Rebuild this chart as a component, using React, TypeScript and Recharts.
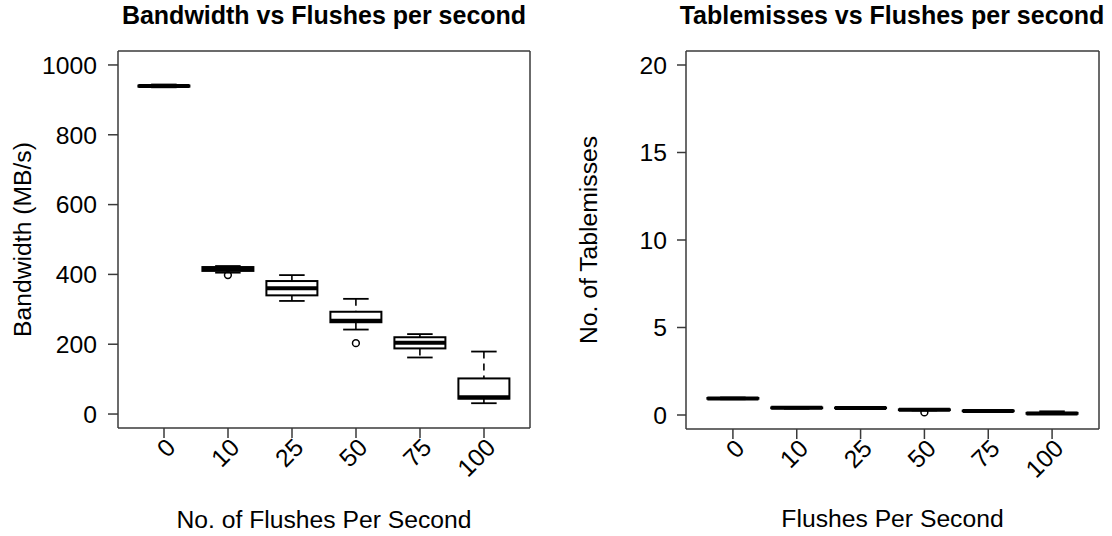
import React from 'react';
import { ComposedChart, Bar, XAxis, YAxis, CartesianGrid } from 'recharts';

// Flush-rate categories shared by both panels
const flushRates = ['0', '10', '25', '50', '75', '100'];

// Bandwidth (MB/s) five-number summaries per flush rate
const bwLow = [936, 405, 324, 242, 162, 31];
const bwQ1 = [938, 410, 340, 263, 188, 44];
const bwMedian = [940, 417, 360, 267, 204, 48];
const bwQ3 = [941, 421, 381, 293, 220, 102];
const bwHigh = [944, 424, 398, 330, 229, 179];
const bwOutliers = [[], [398], [], [203], [], []];
const bwTicks = [0, 200, 400, 600, 800, 1000];

// Table misses five-number summaries per flush rate
const tmLow = [0.9, 0.36, 0.37, 0.26, 0.2, 0.05];
const tmQ1 = [0.93, 0.39, 0.39, 0.28, 0.22, 0.07];
const tmMedian = [0.95, 0.41, 0.4, 0.3, 0.23, 0.09];
const tmQ3 = [0.97, 0.43, 0.42, 0.32, 0.25, 0.12];
const tmHigh = [1.0, 0.46, 0.43, 0.33, 0.26, 0.21];
const tmOutliers = [[], [], [], [0.15], [], []];
const tmTicks = [0, 5, 10, 15, 20];

const FONT = '"Liberation Sans", Arial, Helvetica, sans-serif';
const TEXT_SIZE = 24.7;
const FRAME = '#3a3a3a';

type Row = {
  cat: string;
  low: number;
  q1: number;
  median: number;
  q3: number;
  high: number;
  outliers: number[];
};

const buildRows = (
  low: number[], q1: number[], median: number[], q3: number[], high: number[], outliers: number[][]
): Row[] =>
  flushRates.map((cat, i) => ({
    cat,
    low: low[i],
    q1: q1[i],
    median: median[i],
    q3: q3[i],
    high: high[i],
    outliers: outliers[i],
  }));

const bandwidthRows = buildRows(bwLow, bwQ1, bwMedian, bwQ3, bwHigh, bwOutliers);
const tablemissRows = buildRows(tmLow, tmQ1, tmMedian, tmQ3, tmHigh, tmOutliers);

// Box-and-whisker glyph drawn over the [low, high] range bar
const BoxShape = (props: any) => {
  const { x, y, width, height, payload } = props;
  const { low, q1, median, q3, high, outliers } = payload as Row;
  const span = high - low;
  const py = (v: number) => y + (height * (high - v)) / span;
  const cx = x + width / 2;
  const cap = width / 4;
  const lineCol = '#000';
  return (
    <g>
      <line x1={cx} x2={cx} y1={py(high)} y2={py(q3)} stroke={lineCol} strokeWidth={1.6} strokeDasharray="7 5" />
      <line x1={cx} x2={cx} y1={py(q1)} y2={py(low)} stroke={lineCol} strokeWidth={1.6} strokeDasharray="7 5" />
      <line x1={cx - cap} x2={cx + cap} y1={py(high)} y2={py(high)} stroke={lineCol} strokeWidth={1.8} />
      <line x1={cx - cap} x2={cx + cap} y1={py(low)} y2={py(low)} stroke={lineCol} strokeWidth={1.8} />
      <rect x={x} y={py(q3)} width={width} height={Math.max(py(q1) - py(q3), 0.01)} fill="#fff" stroke={lineCol} strokeWidth={2} />
      <line x1={x} x2={x + width} y1={py(median)} y2={py(median)} stroke={lineCol} strokeWidth={4} />
      {outliers.map((o, i) => (
        <circle key={i} cx={cx} cy={py(o)} r={3.4} fill="none" stroke={lineCol} strokeWidth={1.5} />
      ))}
    </g>
  );
};

const RotatedTick = (props: any) => {
  const { x, y, payload } = props;
  return (
    <text
      transform={`translate(${x + 13},${y + 11}) rotate(-45)`}
      textAnchor="end"
      fontSize={TEXT_SIZE}
      fontFamily={FONT}
      fill="#000"
    >
      {payload.value}
    </text>
  );
};

const makeYLabel = (text: string, baselineX: number) => (props: any) => {
  const { viewBox } = props;
  const cx = viewBox.x + baselineX;
  const cy = viewBox.y + viewBox.height / 2;
  return (
    <text transform={`translate(${cx},${cy}) rotate(-90)`} textAnchor="middle" fontSize={TEXT_SIZE} fontFamily={FONT} fill="#000">
      {text}
    </text>
  );
};

const makeXLabel = (text: string, baselineDy: number) => (props: any) => {
  const { viewBox } = props;
  return (
    <text x={viewBox.x + viewBox.width / 2} y={viewBox.y + baselineDy} textAnchor="middle" fontSize={TEXT_SIZE} fontFamily={FONT} fill="#000">
      {text}
    </text>
  );
};

const frameH = ({ offset }: any) => [offset.top, offset.top + offset.height];
const frameV = ({ offset }: any) => [offset.left, offset.left + offset.width];

type PanelProps = {
  rows: Row[];
  domain: [number, number];
  ticks: number[];
  yLabel: string;
  xLabel: string;
  yAxisWidth: number;
  yLabelBaseline: number;
  rightMargin: number;
  xAxisHeight: number;
  xPad: number;
  tickSize: number;
  tickMargin: number;
  xLabelDy: number;
};

const Panel = (p: PanelProps) => (
  <ComposedChart
    width={556}
    height={536}
    data={p.rows}
    margin={{ top: 51, right: p.rightMargin, bottom: 0, left: 0 }}
    barCategoryGap="10%"
    style={{ fontFamily: FONT }}
  >
    <CartesianGrid
      stroke={FRAME}
      strokeWidth={1.5}
      horizontalCoordinatesGenerator={frameH}
      verticalCoordinatesGenerator={frameV}
    />
    <XAxis
      dataKey="cat"
      type="category"
      height={p.xAxisHeight}
      padding={{ left: p.xPad, right: p.xPad }}
      axisLine={false}
      tickLine={{ stroke: FRAME, strokeWidth: 1.5 }}
      tickSize={10}
      tickMargin={0}
      tick={<RotatedTick />}
      interval={0}
      label={{ content: makeXLabel(p.xLabel, p.xLabelDy) } as any}
    />
    <YAxis
      type="number"
      domain={p.domain}
      ticks={p.ticks}
      allowDataOverflow
      width={p.yAxisWidth}
      axisLine={false}
      tickLine={{ stroke: FRAME, strokeWidth: 1.5 }}
      tickSize={p.tickSize}
      tickMargin={p.tickMargin}
      tick={{ fontSize: TEXT_SIZE, fill: '#000', fontFamily: FONT }}
      interval={0}
      label={{ content: makeYLabel(p.yLabel, p.yLabelBaseline) } as any}
    />
    <Bar
      dataKey={(d: Row) => [d.low, d.high]}
      shape={<BoxShape />}
      isAnimationActive={false}
    />
  </ComposedChart>
);

const titleStyle: React.CSSProperties = {
  position: 'absolute',
  top: 0,
  width: 556,
  textAlign: 'center',
  fontFamily: FONT,
  fontWeight: 'bold',
  fontSize: 25,
  lineHeight: '30px',
  color: '#000',
  whiteSpace: 'nowrap',
};

export default function App() {
  return (
    <div style={{ position: 'absolute', left: 0, top: 0, width: 1112, height: 536, background: '#fff', overflow: 'hidden' }}>
      <div style={{ ...titleStyle, left: 324 - 278 }}>Bandwidth vs Flushes per second</div>
      <div style={{ ...titleStyle, left: 892 - 278 }}>Tablemisses vs Flushes per second</div>
      <div style={{ position: 'absolute', left: 0, top: 0 }}>
        <Panel
          rows={bandwidthRows}
          domain={[-40, 1040]}
          ticks={bwTicks}
          yLabel="Bandwidth (MB/s)"
          xLabel="No. of Flushes Per Second"
          yAxisWidth={118}
          yLabelBaseline={31}
          rightMargin={26}
          xAxisHeight={108}
          xPad={14}
          tickSize={10}
          tickMargin={11}
          xLabelDy={100}
        />
      </div>
      <div style={{ position: 'absolute', left: 556, top: 0 }}>
        <Panel
          rows={tablemissRows}
          domain={[-0.8, 20.8]}
          ticks={tmTicks}
          yLabel="No. of Tablemisses"
          xLabel="Flushes Per Second"
          yAxisWidth={130}
          yLabelBaseline={41}
          rightMargin={13}
          xAxisHeight={107}
          xPad={15}
          tickSize={9}
          tickMargin={10}
          xLabelDy={98}
        />
      </div>
    </div>
  );
}
